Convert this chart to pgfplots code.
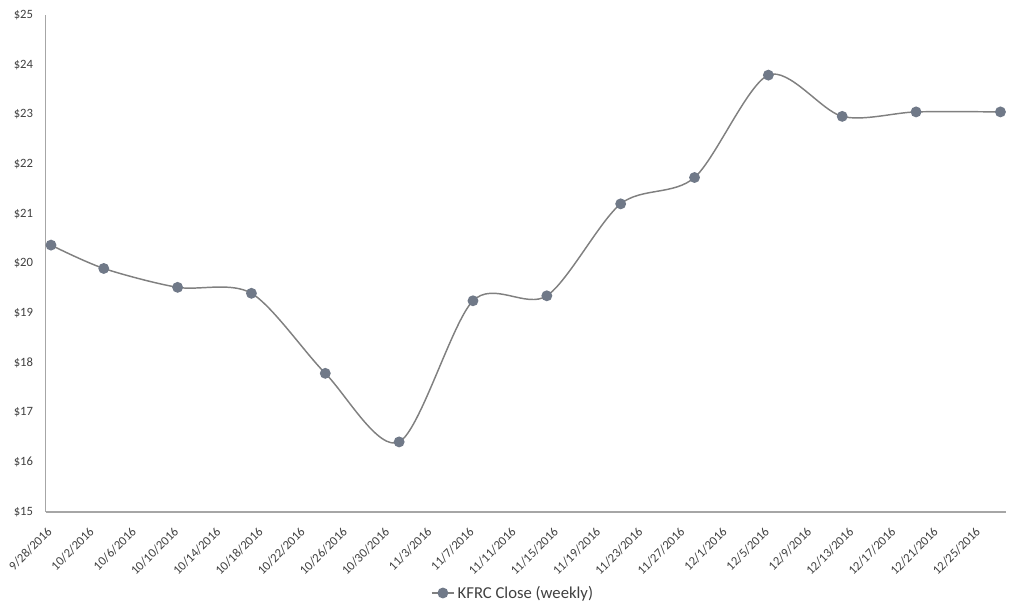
\documentclass[border=0pt]{standalone}
\usepackage{fontspec}
\setmainfont{Carlito}
\usepackage{pgfplots}
\pgfplotsset{compat=1.18}
\definecolor{linegray}{RGB}{128,128,128}
\definecolor{markgray}{RGB}{112,121,136}
\definecolor{axgray}{RGB}{166,166,166}
\definecolor{txt}{RGB}{64,64,64}
\begin{document}
\begin{tikzpicture}
\useasboundingbox (-34.3pt,-78pt) rectangle (733.7pt,384pt);
\begin{axis}[
  scale only axis,
  width=720pt, height=372.75pt,
  xmin=-0.5, xmax=90.5,
  ymin=15, ymax=25,
  axis x line*=bottom,
  axis y line*=left,
  axis line style={axgray, line width=0.8pt, -},
  major tick length=0pt,
  xtick={0,4,...,88},
  xticklabels={9/28/2016,10/2/2016,10/6/2016,10/10/2016,10/14/2016,10/18/2016,10/22/2016,10/26/2016,10/30/2016,11/3/2016,11/7/2016,11/11/2016,11/15/2016,11/19/2016,11/23/2016,11/27/2016,12/1/2016,12/5/2016,12/9/2016,12/13/2016,12/17/2016,12/21/2016,12/25/2016},
  ytick={15,...,25},
  yticklabels={\$15,\$16,\$17,\$18,\$19,\$20,\$21,\$22,\$23,\$24,\$25},
  x tick label style={xshift=-3.5pt, yshift=-9pt, rotate=45, anchor=north east, font=\fontsize{9.5}{11}\selectfont, text=txt, inner sep=1pt},
  y tick label style={font=\fontsize{9.5}{11}\selectfont, text=txt, xshift=-6pt},
  clip=false,
  legend style={at={(0.487,-0.163)}, anchor=center, draw=none, fill=none, font=\fontsize{12.5}{14}\selectfont, text=txt, inner sep=0pt},
  legend cell align=left,
]
\addplot[smooth, color=linegray, line width=1.1pt, mark=*, mark size=3.5pt, mark options={fill=markgray, draw=markgray}]
coordinates {
(0,20.37) (5,19.90) (12,19.52) (19,19.40) (26,17.79) (33,16.41) (40,19.25) (47,19.35) (54,21.20) (61,21.73) (68,23.79) (75,22.96) (82,23.05) (90,23.05)
};
\addlegendentry{KFRC Close\ (weekly)}
\end{axis}
\end{tikzpicture}
\end{document}
